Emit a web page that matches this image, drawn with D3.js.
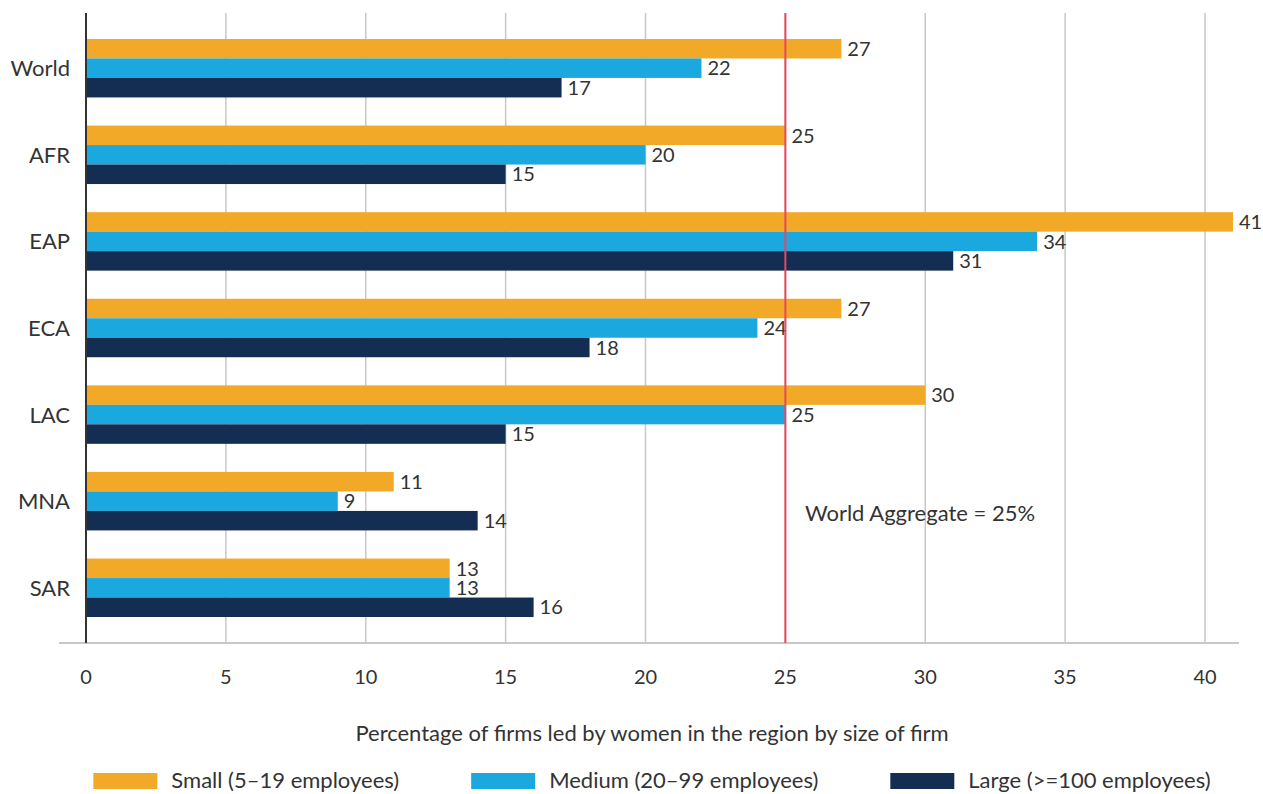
<!DOCTYPE html>
<html>
<head>
<meta charset="utf-8">
<script src="https://cdn.jsdelivr.net/npm/d3@7"></script>
<style>
  body { margin: 0; background: #fff; }
  svg text { font-family: Lato, "Open Sans", sans-serif; fill: #333; }
</style>
</head>
<body>
<div id="chart"></div>
<script>
let regions = ["World", "AFR", "EAP", "ECA", "LAC", "MNA", "SAR"];
let smallFirms = [27, 25, 41, 27, 30, 11, 13];
let mediumFirms = [22, 20, 34, 24, 25, 9, 13];
let largeFirms = [17, 15, 31, 18, 15, 14, 16];
let seriesNames = ["Small (5–19 employees)", "Medium (20–99 employees)", "Large (>=100 employees)"];
let xTicks = [0, 5, 10, 15, 20, 25, 30, 35, 40];
let worldAggregate = 25;
let axisTitle = "Percentage of firms led by women in the region by size of firm";
let aggregateLabel = "World Aggregate = 25%";

let colors = ["#f2a928", "#1ba8df", "#132e52"];
let width = 1263, height = 794;
let plotTop = 13, plotBottom = 643;
let textSize = "22px";
let numberSize = "20px";

let series = [smallFirms, mediumFirms, largeFirms];
let rows = regions.map(function(r, i) {
  return { region: r, values: series.map(function(s) { return s[i]; }) };
});

let svg = d3.select("#chart").append("svg")
  .attr("width", width)
  .attr("height", height);

let x = d3.scaleLinear().domain([0, 40]).range([86, 1205]);

let y0 = d3.scaleBand()
  .domain(regions)
  .range([plotTop, plotBottom])
  .paddingInner(0.325)
  .paddingOuter(0.3);

let y1 = d3.scaleBand()
  .domain(d3.range(series.length))
  .range([0, y0.bandwidth()]);

// gridlines
svg.append("g").selectAll("line")
  .data(xTicks.filter(function(d) { return d > 0; }))
  .enter().append("line")
  .attr("x1", function(d) { return x(d); })
  .attr("x2", function(d) { return x(d); })
  .attr("y1", plotTop)
  .attr("y2", plotBottom)
  .attr("stroke", "#c8c8c8")
  .attr("stroke-width", 1.5);

// bottom axis line
svg.append("line")
  .attr("x1", 59).attr("x2", 1239)
  .attr("y1", plotBottom).attr("y2", plotBottom)
  .attr("stroke", "#c8c8c8")
  .attr("stroke-width", 2);

// tick labels
svg.append("g").selectAll("text")
  .data(xTicks)
  .enter().append("text")
  .attr("x", function(d) { return x(d); })
  .attr("y", 684)
  .attr("text-anchor", "middle")
  .style("font-size", numberSize)
  .text(function(d) { return d; });

// bars
let groups = svg.append("g").selectAll("g")
  .data(rows)
  .enter().append("g")
  .attr("transform", function(d) { return "translate(0," + y0(d.region) + ")"; });

groups.selectAll("rect")
  .data(function(d) { return d.values; })
  .enter().append("rect")
  .attr("x", x(0))
  .attr("y", function(d, i) { return y1(i); })
  .attr("width", function(d) { return x(d) - x(0); })
  .attr("height", y1.bandwidth())
  .attr("fill", function(d, i) { return colors[i]; });

groups.selectAll("text")
  .data(function(d) { return d.values; })
  .enter().append("text")
  .attr("x", function(d) { return x(d) + 6; })
  .attr("y", function(d, i) { return y1(i) + y1.bandwidth() / 2; })
  .attr("dy", "0.36em")
  .style("font-size", numberSize)
  .text(function(d) { return d; });

// category labels
svg.append("g").selectAll("text")
  .data(regions)
  .enter().append("text")
  .attr("x", 70)
  .attr("y", function(d) { return y0(d) + y0.bandwidth() / 2; })
  .attr("dy", "0.36em")
  .attr("text-anchor", "end")
  .style("font-size", textSize)
  .text(function(d) { return d; });

// vertical axis line
svg.append("line")
  .attr("x1", x(0)).attr("x2", x(0))
  .attr("y1", plotTop).attr("y2", plotBottom)
  .attr("stroke", "#333")
  .attr("stroke-width", 2);

// world aggregate line
svg.append("line")
  .attr("x1", x(worldAggregate)).attr("x2", x(worldAggregate))
  .attr("y1", plotTop).attr("y2", plotBottom)
  .attr("stroke", "#e8475f")
  .attr("stroke-width", 2);

svg.append("text")
  .attr("x", 920)
  .attr("y", 521)
  .attr("text-anchor", "middle")
  .style("font-size", textSize)
  .text(aggregateLabel);

// axis title
svg.append("text")
  .attr("x", 652)
  .attr("y", 741)
  .attr("text-anchor", "middle")
  .style("font-size", textSize)
  .text(axisTitle);

// legend
let legend = svg.append("g");
let items = legend.selectAll("g")
  .data(seriesNames)
  .enter().append("g");

items.append("rect")
  .attr("y", 773)
  .attr("width", 64)
  .attr("height", 16)
  .attr("fill", function(d, i) { return colors[i]; });

items.append("text")
  .attr("x", 78)
  .attr("y", 788)
  .style("font-size", textSize)
  .text(function(d) { return d; });

let offset = 0;
let gap = 72;
items.each(function() {
  let w = 78 + this.querySelector("text").getComputedTextLength();
  d3.select(this).attr("transform", "translate(" + offset + ",0)");
  offset += w + gap;
});
let legendWidth = offset - gap;
legend.attr("transform", "translate(" + (652 - legendWidth / 2) + ",0)");
</script>
</body>
</html>
